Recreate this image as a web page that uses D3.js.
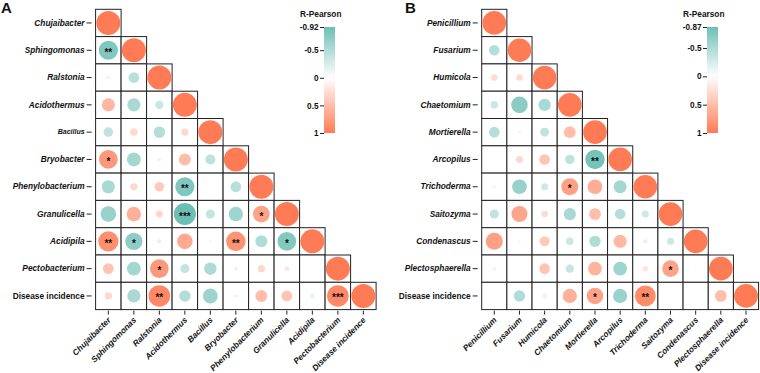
<!DOCTYPE html>
<html><head><meta charset="utf-8">
<script src="https://cdn.jsdelivr.net/npm/d3@7"></script>
<style>body{margin:0;background:#fff} svg{display:block} text{font-family:"Liberation Sans",Arial,sans-serif}</style>
</head><body><svg id="c" width="760" height="373"></svg>
<script>
const categoriesA = ["Chujaibacter","Sphingomonas","Ralstonia","Acidothermus","Bacillus","Bryobacter","Phenylobacterium","Granulicella","Acidipila","Pectobacterium","Disease incidence"];
const valuesA = [
 [1],
 [-0.80,1],
 [0.15,-0.45,1],
 [0.55,-0.55,-0.35,1],
 [-0.40,0.30,-0.48,0.30,1],
 [0.78,-0.58,-0.15,0.50,-0.42,1],
 [-0.55,0.30,0.40,-0.80,0.02,-0.45,1],
 [-0.65,0.60,0.30,-0.92,-0.38,-0.60,0.70,1],
 [0.85,-0.72,-0.18,0.65,0.10,0.82,-0.50,-0.78,1],
 [0.45,-0.58,0.78,-0.38,-0.52,-0.15,0.30,0.20,0.05,1],
 [0.30,-0.55,0.90,-0.48,-0.62,-0.15,0.50,0.45,-0.18,0.90,1]
];
const sigA = [
 [""],
 ["**",""],
 ["","",""],
 ["","","",""],
 ["","","","",""],
 ["*","","","","",""],
 ["","","","**","","",""],
 ["","","","***","","","*",""],
 ["**","*","","","","**","","*",""],
 ["","","*","","","","","","",""],
 ["","","**","","","","","","","***",""]
];
const legendTicksA = [-0.92,-0.5,0,0.5,1];

const categoriesB = ["Penicillium","Fusarium","Humicola","Chaetomium","Mortierella","Arcopilus","Trichoderma","Saitozyma","Condenascus","Plectosphaerella","Disease incidence"];
const valuesB = [
 [1],
 [-0.45,1],
 [0.28,0.28,1],
 [-0.32,-0.70,-0.52,1],
 [-0.45,-0.12,-0.38,0.50,1],
 [0.00,0.30,0.45,-0.40,-0.82,1],
 [-0.12,-0.62,-0.30,0.72,0.62,-0.55,1],
 [-0.38,0.68,0.28,-0.52,0.50,-0.45,-0.30,1],
 [0.72,-0.10,0.42,-0.32,-0.48,0.55,-0.18,-0.30,1],
 [0.15,0.05,0.45,-0.35,0.58,-0.58,0.22,0.70,-0.08,1],
 [0.03,-0.48,0.18,0.60,0.70,-0.60,0.88,0.00,-0.05,0.50,1]
];
const sigB = [
 [""],
 ["",""],
 ["","",""],
 ["","","",""],
 ["","","","",""],
 ["","","","","**",""],
 ["","","","*","","",""],
 ["","","","","","","",""],
 ["","","","","","","","",""],
 ["","","","","","","","*","",""],
 ["","","","","*","","**","","","",""]
];
const legendTicksB = [-0.87,-0.5,0,0.5,1];

const svg = d3.select("#c");
const TEAL = "#6dbfb5", ORANGE = "#ff7b55";

function panel(opt){
  const {cats, vals, sig, ticks, x0, x1, y0, y1, letter, letterX, legX, gid} = opt;
  const g = svg.append("g");
  const x = d3.scaleBand().domain(cats).range([x0,x1]);
  const y = d3.scaleBand().domain(cats).range([y0,y1]);
  const minV = ticks[0];
  const color = d3.scaleLinear().domain([minV,0,1]).range([TEAL,"#ffffff",ORANGE]).clamp(true);
  const rmax = Math.min(x.bandwidth(), y.bandwidth())*0.47;
  const cells = [];
  vals.forEach((row,i)=>row.forEach((v,j)=>cells.push({i,j,v,s:sig[i][j]})));
  g.selectAll("rect.cell").data(cells).join("rect")
    .attr("x",d=>x(cats[d.j])).attr("y",d=>y(cats[d.i]))
    .attr("width",x.bandwidth()).attr("height",y.bandwidth())
    .attr("fill","#fff").attr("stroke","#222").attr("stroke-width",1);
  g.selectAll("circle").data(cells).join("circle")
    .attr("cx",d=>x(cats[d.j])+x.bandwidth()/2)
    .attr("cy",d=>y(cats[d.i])+y.bandwidth()/2)
    .attr("r",d=>rmax*Math.abs(d.v))
    .attr("fill",d=>color(d.v));
  g.selectAll("text.sig").data(cells.filter(d=>d.s)).join("text")
    .attr("x",d=>x(cats[d.j])+x.bandwidth()/2)
    .attr("y",d=>y(cats[d.i])+y.bandwidth()/2+5.5)
    .attr("text-anchor","middle").attr("font-size",10).attr("font-weight","bold")
    .attr("fill","#111").text(d=>d.s);

  // y axis
  const ya = g.append("g").attr("transform",`translate(${x0-4},0)`)
    .call(d3.axisLeft(y).tickSize(5).tickPadding(2));
  ya.select(".domain").remove();
  ya.selectAll(".tick line").attr("stroke","#222");
  ya.selectAll(".tick text").attr("font-size",d=>d==="Bacillus"?7:8.3)
    .attr("font-weight","bold").attr("font-style",d=>d==="Disease incidence"?"normal":"italic")
    .attr("fill","#111").style("font-family","'Liberation Sans',Arial,sans-serif");
  // x axis
  const xa = g.append("g").attr("transform",`translate(0,${y1+1})`)
    .call(d3.axisBottom(x).tickSize(4));
  xa.select(".domain").remove();
  xa.selectAll(".tick line").attr("stroke","#222");
  xa.selectAll(".tick text").attr("x",0).attr("y",0).attr("dy",0)
    .attr("transform","translate(3,10) rotate(-45)").attr("text-anchor","end")
    .attr("font-size",8.3).attr("font-weight","bold").attr("font-style","italic")
    .attr("fill","#111").style("font-family","'Liberation Sans',Arial,sans-serif");

  // letter
  svg.append("text").attr("x",letterX).attr("y",13).attr("font-size",15)
    .attr("font-weight","bold").attr("fill","#111").text(letter);

  // legend
  const ly0 = 27, ly1 = 133, lw = 11;
  const ls = d3.scaleLinear().domain([minV,1]).range([ly0,ly1]);
  const grad = svg.append("defs").append("linearGradient").attr("id",gid)
    .attr("x1",0).attr("x2",0).attr("y1",0).attr("y2",1);
  d3.range(0,1.0001,0.05).forEach(t=>{
    const v = minV + t*(1-minV);
    grad.append("stop").attr("offset",t).attr("stop-color",color(v));
  });
  svg.append("rect").attr("x",legX).attr("y",ly0).attr("width",lw).attr("height",ly1-ly0)
    .attr("fill",`url(#${gid})`);
  const la = svg.append("g").attr("transform",`translate(${legX},0)`)
    .call(d3.axisLeft(ls).tickValues(ticks).tickSize(4).tickPadding(1.5).tickFormat(d=>String(d)));
  la.select(".domain").remove();
  la.selectAll(".tick line").attr("stroke","#222");
  la.selectAll(".tick text").attr("font-size",8.2).attr("font-weight","bold").attr("fill","#111")
    .style("font-family","'Liberation Sans',Arial,sans-serif");
  svg.append("text").attr("x",legX-24).attr("y",17).attr("font-size",8.3)
    .attr("font-weight","bold").attr("fill","#111").text("R-Pearson");
}

panel({cats:categoriesA, vals:valuesA, sig:sigA, ticks:legendTicksA,
  x0:95.6, x1:376.1, y0:9.3, y1:309.6, letter:"A", letterX:1, legX:324, gid:"gA"});
panel({cats:categoriesB, vals:valuesB, sig:sigB, ticks:legendTicksB,
  x0:481.7, x1:758.6, y0:9.3, y1:309.6, letter:"B", letterX:405, legX:707, gid:"gB"});
</script></body></html>
